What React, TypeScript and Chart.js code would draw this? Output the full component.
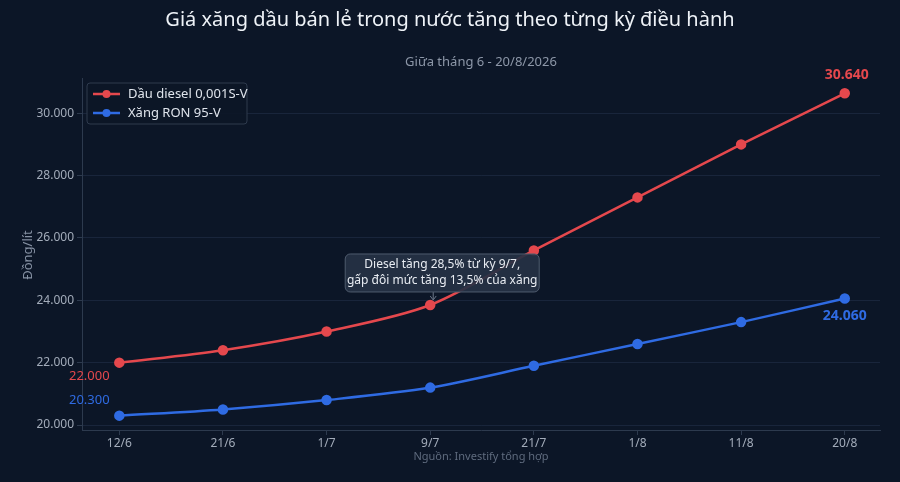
import React, { useEffect, useRef } from "react";
import { Chart, registerables } from "chart.js";

Chart.register(...registerables);

const categories = ["12/6", "21/6", "1/7", "9/7", "21/7", "1/8", "11/8", "20/8"];
const dieselValues = [22000, 22400, 23000, 23850, 25600, 27300, 29000, 30640];
const ron95Values = [20300, 20500, 20800, 21200, 21900, 22600, 23300, 24060];
const yTicks = [20000, 22000, 24000, 26000, 28000, 30000];
const seriesNames = ["Dầu diesel 0,001S-V", "Xăng RON 95-V"];
const titleText = "Giá xăng dầu bán lẻ trong nước tăng theo từng kỳ điều hành";
const subtitleText = "Giữa tháng 6 - 20/8/2026";
const yTitle = "Đồng/lít";
const sourceText = "Nguồn: Investify tổng hợp";
const noteLines = ["Diesel tăng 28,5% từ kỳ 9/7,", "gấp đôi mức tăng 13,5% của xăng"];
const noteIndex = 3;

const RED = "#e5484d";
const BLUE = "#2f6be3";
const BG = "#0c1627";
const FONT = "'Noto Sans', 'Open Sans', sans-serif";

const fmt = (v: number) => v.toLocaleString("de-DE");

const decorPlugin = {
  id: "decor",
  beforeDraw(chart: any) {
    const { ctx, width, height } = chart;
    ctx.save();
    ctx.fillStyle = BG;
    ctx.fillRect(0, 0, width, height);
    ctx.restore();
  },
  afterDatasetsDraw(chart: any) {
    const { ctx } = chart;
    const xs = chart.scales.x;
    const ys = chart.scales.y;
    ctx.save();
    // Title
    ctx.textAlign = "center";
    ctx.textBaseline = "middle";
    ctx.fillStyle = "#eef2f7";
    ctx.font = `20px ${FONT}`;
    ctx.fillText(titleText, 450, 20);
    ctx.fillStyle = "#8d97a8";
    ctx.font = `13px ${FONT}`;
    ctx.fillText(subtitleText, 481, 62);
    // Y title
    ctx.save();
    ctx.translate(28, 255);
    ctx.rotate(-Math.PI / 2);
    ctx.fillStyle = "#8590a2";
    ctx.font = `13px ${FONT}`;
    ctx.fillText(yTitle, 0, 0);
    ctx.restore();
    // Source
    ctx.fillStyle = "#5f6b7e";
    ctx.font = `11px ${FONT}`;
    ctx.fillText(sourceText, 481, 457);

    // Start labels
    const x0 = xs.getPixelForValue(0);
    ctx.font = `13px ${FONT}`;
    ctx.fillStyle = RED;
    ctx.fillText(fmt(dieselValues[0]), x0 - 30, ys.getPixelForValue(dieselValues[0]) + 14);
    ctx.fillStyle = BLUE;
    ctx.fillText(fmt(ron95Values[0]), x0 - 30, ys.getPixelForValue(ron95Values[0]) - 15);
    // End labels
    const last = categories.length - 1;
    const xl = xs.getPixelForValue(last);
    ctx.font = `bold 14px ${FONT}`;
    ctx.fillStyle = RED;
    ctx.fillText(fmt(dieselValues[last]), xl + 2, ys.getPixelForValue(dieselValues[last]) - 18);
    ctx.fillStyle = BLUE;
    ctx.fillText(fmt(ron95Values[last]), xl, ys.getPixelForValue(ron95Values[last]) + 18);

    // Annotation
    const px = xs.getPixelForValue(noteIndex);
    const py = ys.getPixelForValue(dieselValues[noteIndex]);
    const bw = 194, bh = 38;
    const bx = px + 12 - bw / 2;
    const by = py - 51;
    ctx.beginPath();
    ctx.moveTo(px + 3, by + bh);
    ctx.lineTo(px + 3, py - 6);
    ctx.strokeStyle = "#6c7789";
    ctx.lineWidth = 1;
    ctx.stroke();
    ctx.beginPath();
    ctx.moveTo(px, py - 9);
    ctx.lineTo(px + 3, py - 5);
    ctx.lineTo(px + 6, py - 9);
    ctx.stroke();
    ctx.beginPath();
    (ctx as any).roundRect(bx, by, bw, bh, 5);
    ctx.fillStyle = "rgba(38,50,68,0.92)";
    ctx.fill();
    ctx.strokeStyle = "#4f5b6e";
    ctx.stroke();
    ctx.fillStyle = "#e8ecf2";
    ctx.font = `12px ${FONT}`;
    ctx.fillText(noteLines[0], bx + bw / 2, by + 11);
    ctx.fillText(noteLines[1], bx + bw / 2, by + 27);

    // Legend
    const lx = 87, ly = 83, lw = 160, lh = 41;
    ctx.beginPath();
    (ctx as any).roundRect(lx, ly, lw, lh, 3);
    ctx.fillStyle = "rgba(12,22,39,0.9)";
    ctx.fill();
    ctx.strokeStyle = "#2e3a4d";
    ctx.stroke();
    const colors = [RED, BLUE];
    seriesNames.forEach((name, i) => {
      const cy = ly + 11 + i * 19;
      ctx.strokeStyle = colors[i];
      ctx.lineWidth = 2.5;
      ctx.beginPath();
      ctx.moveTo(lx + 6, cy);
      ctx.lineTo(lx + 33, cy);
      ctx.stroke();
      ctx.beginPath();
      ctx.arc(lx + 19.5, cy, 4, 0, Math.PI * 2);
      ctx.fillStyle = colors[i];
      ctx.fill();
      ctx.fillStyle = "#dfe4ec";
      ctx.font = `13px ${FONT}`;
      ctx.textAlign = "left";
      ctx.fillText(name, lx + 41, cy + 0.5);
    });
    ctx.restore();
  },
};

export default function App() {
  const ref = useRef<HTMLCanvasElement | null>(null);
  useEffect(() => {
    document.body.style.margin = "0";
    document.body.style.background = BG;
    if (!ref.current) return;
    const chart = new Chart(ref.current, {
      type: "line",
      data: {
        datasets: [
          {
            label: seriesNames[0],
            data: dieselValues.map((v, i) => ({ x: i, y: v })),
            borderColor: RED,
            backgroundColor: RED,
            borderWidth: 2.5,
            pointRadius: 4,
            pointHoverRadius: 4,
            tension: 0.3,
          },
          {
            label: seriesNames[1],
            data: ron95Values.map((v, i) => ({ x: i, y: v })),
            borderColor: BLUE,
            backgroundColor: BLUE,
            borderWidth: 2.5,
            pointRadius: 4,
            pointHoverRadius: 4,
            tension: 0.3,
          },
        ],
      },
      options: {
        responsive: false,
        animation: false,
        layout: { padding: { top: 78, right: 20, bottom: 0, left: 0 } },
        plugins: { legend: { display: false }, tooltip: { enabled: false }, title: { display: false } },
        scales: {
          x: {
            type: "linear",
            min: -0.36,
            max: categories.length - 1 + 0.34,
            afterBuildTicks: (s: any) => {
              s.ticks = categories.map((_, i) => ({ value: i }));
            },
            afterFit: (s: any) => {
              s.height = 52;
            },
            ticks: {
              color: "#a3acba",
              font: { family: FONT, size: 12 },
              callback: (v: any) => categories[v as number] ?? "",
              maxRotation: 0,
              autoSkip: false,
              padding: 1,
            },
            grid: { drawOnChartArea: false, drawTicks: true, tickLength: 5, color: "#2d3a4e" },
            border: { color: "#2d3a4e" },
          },
          y: {
            min: 19840,
            max: 31130,
            afterBuildTicks: (s: any) => {
              s.ticks = yTicks.map((v) => ({ value: v }));
            },
            afterFit: (s: any) => {
              s.width = 82;
            },
            ticks: {
              color: "#a3acba",
              font: { family: FONT, size: 12 },
              callback: (v: any) => fmt(v as number),
              padding: 3,
            },
            grid: { color: "rgba(60,80,110,0.28)", tickLength: 5, tickColor: "#2d3a4e" },
            border: { color: "#2d3a4e" },
          },
        },
      },
      plugins: [decorPlugin],
    });
    return () => chart.destroy();
  }, []);
  return (
    <div style={{ position: "fixed", left: 0, top: 0, width: 900, height: 482, background: BG }}>
      <canvas ref={ref} width={900} height={482} style={{ width: 900, height: 482, display: "block" }} />
    </div>
  );
}
